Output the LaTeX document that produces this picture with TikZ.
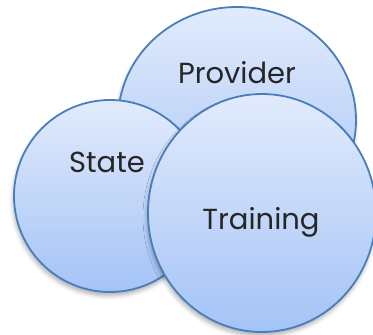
\documentclass[tikz,border=0pt]{standalone}
\usepackage{fontspec}
\setmainfont{Poppins}
\usepackage{tikz}
\usetikzlibrary{shapes.geometric, shadows.blur}

\definecolor{venntop}{RGB}{226,235,252}
\definecolor{vennbottom}{RGB}{164,195,246}
\definecolor{vennline}{RGB}{74,126,187}

\begin{document}
\begin{tikzpicture}[
    x=1pt, y=-1pt,
    bubble/.style={ellipse, draw=vennline, line width=1.8pt, inner sep=0pt,
                   top color=venntop, bottom color=vennbottom,
                   blur shadow={shadow xshift=-1pt, shadow yshift=-4pt,
                                shadow blur radius=4pt, shadow opacity=30}},
    word/.style={font=\fontsize{29}{33}\selectfont, text=black!85, inner sep=0pt}
]
\useasboundingbox (0,0) rectangle (373,335);

% the three circles, back to front
\node[bubble, minimum width=238pt, minimum height=226pt] (provider) at (237,120) {};
\node[bubble, minimum width=192pt, minimum height=192pt] (state) at (110,196) {};
\node[bubble, minimum width=228pt, minimum height=238pt] (training) at (262,213) {};

% labels
\node[word, anchor=base] (providerlabel) at (237,83) {Provider};
\node[word, anchor=base] (statelabel) at (107,172) {State};
\node[word, anchor=base] (traininglabel) at (261,229) {Training};

\end{tikzpicture}
\end{document}
